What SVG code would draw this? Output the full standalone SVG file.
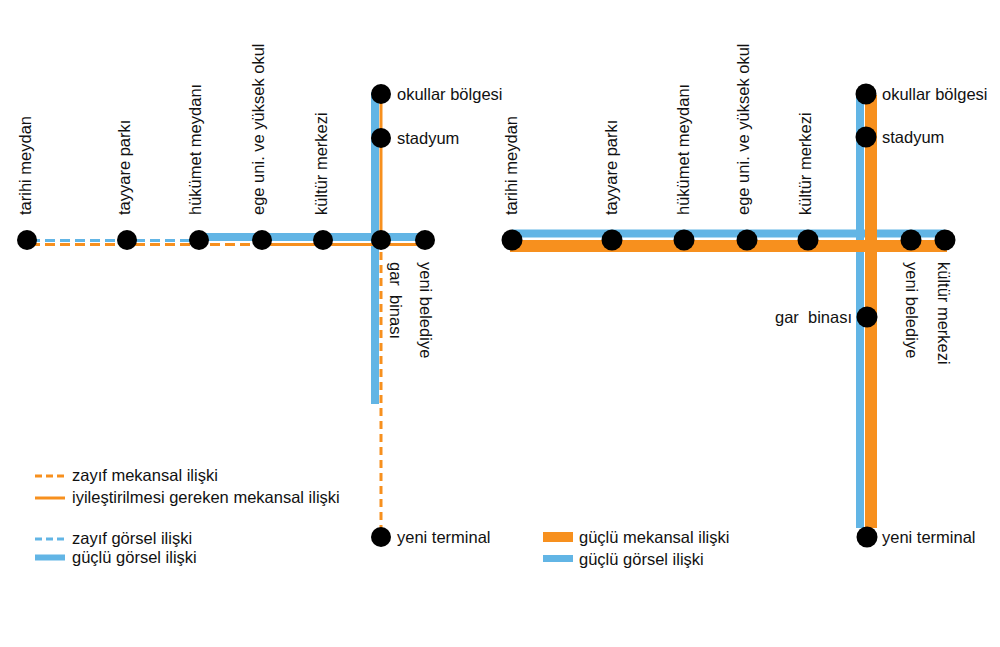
<svg xmlns="http://www.w3.org/2000/svg" width="1000" height="647" viewBox="0 0 1000 647">
<style>
text{font-family:"Liberation Sans",Arial,sans-serif;font-size:16.5px;fill:#111}
.n{fill:#000}
.b{stroke:#62b5e5;fill:none}
.o{stroke:#f7901e;fill:none}
.bd{stroke:#62b5e5;stroke-width:3;stroke-dasharray:10 5;fill:none}
.od{stroke:#f7901e;stroke-width:3;stroke-dasharray:10 5;fill:none}
.vd{stroke:#f7901e;stroke-width:3;stroke-dasharray:8 5;fill:none}
</style>
<rect width="1000" height="647" fill="#fff"/>
<g id="connectors">
  <line class="b" x1="375" y1="92" x2="375" y2="404" stroke-width="8"/>
  <line class="b" x1="199" y1="237" x2="425" y2="237" stroke-width="8"/>
  <line class="bd" x1="30" y1="240.5" x2="199" y2="240.5"/>
  <line class="od" x1="30" y1="244.5" x2="262" y2="244.5"/>
  <line class="o" x1="262" y1="244.5" x2="425" y2="244.5" stroke-width="3"/>
  <line class="o" x1="381" y1="94" x2="381" y2="244" stroke-width="3"/>
  <line class="vd" x1="381" y1="252" x2="381" y2="530"/>
  <line class="b" x1="860" y1="95" x2="860" y2="528" stroke-width="8"/>
  <line class="b" x1="512" y1="233.5" x2="945" y2="233.5" stroke-width="8"/>
  <line class="o" x1="510" y1="246" x2="947" y2="246" stroke-width="12"/>
  <line class="o" x1="871" y1="95" x2="871" y2="528" stroke-width="12"/>
</g>
<g id="left-tarihi-meydan"><circle class="n" cx="27" cy="240" r="10"/><text transform="translate(31,215) rotate(-90)">tarihi meydan</text></g>
<g id="left-tayyare-parki"><circle class="n" cx="127" cy="240" r="10"/><text transform="translate(130,215) rotate(-90)">tayyare parkı</text></g>
<g id="left-hukumet-meydani"><circle class="n" cx="199" cy="240" r="10"/><text transform="translate(201,215) rotate(-90)">hükümet meydanı</text></g>
<g id="left-ege-uni"><circle class="n" cx="262" cy="240" r="10"/><text transform="translate(264,215) rotate(-90)">ege uni. ve yüksek okul</text></g>
<g id="left-kultur-merkezi"><circle class="n" cx="323" cy="240" r="10"/><text transform="translate(327,215) rotate(-90)">kültür merkezi</text></g>
<g id="left-gar-binasi"><circle class="n" cx="381" cy="240" r="10"/><text transform="translate(390,262) rotate(90)" xml:space="preserve">gar  binası</text></g>
<g id="left-yeni-belediye"><circle class="n" cx="425" cy="240" r="10"/><text transform="translate(420,262) rotate(90)">yeni belediye</text></g>
<g id="left-okullar-bolgesi"><circle class="n" cx="381" cy="94" r="10"/><text x="397" y="100">okullar bölgesi</text></g>
<g id="left-stadyum"><circle class="n" cx="381" cy="138" r="10"/><text x="397" y="144">stadyum</text></g>
<g id="left-yeni-terminal"><circle class="n" cx="381" cy="537" r="10"/><text x="397" y="543">yeni terminal</text></g>

<g id="right-tarihi-meydan"><circle class="n" cx="512" cy="240" r="10.5"/><text transform="translate(516.5,215) rotate(-90)">tarihi meydan</text></g>
<g id="right-tayyare-parki"><circle class="n" cx="612" cy="240" r="10.5"/><text transform="translate(616.5,215) rotate(-90)">tayyare parkı</text></g>
<g id="right-hukumet-meydani"><circle class="n" cx="684" cy="240" r="10.5"/><text transform="translate(688.5,215) rotate(-90)">hükümet meydanı</text></g>
<g id="right-ege-uni"><circle class="n" cx="747" cy="240" r="10.5"/><text transform="translate(749,215) rotate(-90)">ege uni. ve yüksek okul</text></g>
<g id="right-kultur-merkezi"><circle class="n" cx="808" cy="240" r="10.5"/><text transform="translate(811,215) rotate(-90)">kültür merkezi</text></g>
<g id="right-yeni-belediye"><circle class="n" cx="911" cy="240" r="10.5"/><text transform="translate(906,262) rotate(90)">yeni belediye</text></g>
<g id="right-kultur-merkezi-2"><circle class="n" cx="945" cy="240" r="10.5"/><text transform="translate(938,262) rotate(90)">kültür merkezi</text></g>
<g id="right-okullar-bolgesi"><circle class="n" cx="866" cy="94" r="10.5"/><text x="882" y="100">okullar bölgesi</text></g>
<g id="right-stadyum"><circle class="n" cx="866" cy="137" r="10.5"/><text x="882" y="143">stadyum</text></g>
<g id="right-gar-binasi"><circle class="n" cx="867" cy="317" r="10.5"/><text x="852" y="323" text-anchor="end" xml:space="preserve">gar  binası</text></g>
<g id="right-yeni-terminal"><circle class="n" cx="867" cy="537" r="10.5"/><text x="882" y="543">yeni terminal</text></g>

<g id="legend-left">
  <line x1="35" y1="476" x2="65" y2="476" stroke="#f7901e" stroke-width="3" stroke-dasharray="7 4"/>
  <text x="72" y="481">zayıf mekansal ilişki</text>
  <line x1="35" y1="498" x2="65" y2="498" stroke="#f7901e" stroke-width="3"/>
  <text x="72" y="503">iyileştirilmesi gereken mekansal ilişki</text>
  <line x1="35" y1="539" x2="65" y2="539" stroke="#62b5e5" stroke-width="3" stroke-dasharray="7 4"/>
  <text x="72" y="544">zayıf görsel ilişki</text>
  <rect x="35" y="554.5" width="30" height="6" fill="#62b5e5"/>
  <text x="72" y="563">güçlü görsel ilişki</text>
</g>
<g id="legend-right">
  <rect x="543" y="532" width="30" height="10" fill="#f7901e"/>
  <text x="579" y="543">güçlü mekansal ilişki</text>
  <rect x="543" y="555" width="30" height="7" fill="#62b5e5"/>
  <text x="579" y="565">güçlü görsel ilişki</text>
</g>
</svg>
